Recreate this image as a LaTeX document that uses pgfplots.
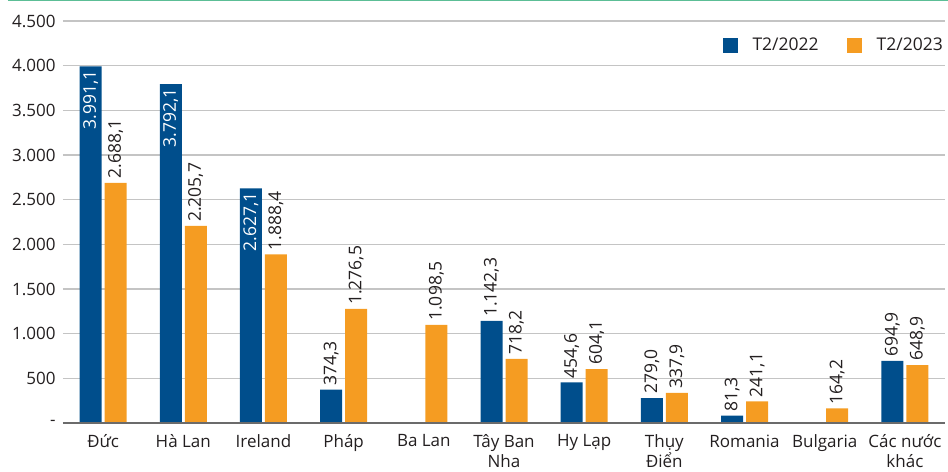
\documentclass[border=0pt]{standalone}
\usepackage{pgfplots}
\pgfplotsset{compat=1.18}
\usepackage{pgfplotstable}
\usepackage{fontspec}
\setmainfont{Open Sans}
\definecolor{cblue}{HTML}{004E8C}
\definecolor{corange}{HTML}{F59C22}
\definecolor{ctext}{HTML}{231F20}
\definecolor{cgreen}{HTML}{5CBE96}
\definecolor{cgrid}{HTML}{C4C4C4}
\definecolor{caxis}{HTML}{6B6B6B}

\pgfplotstableread{
x y lab
0 3991.1 3.991,1
1 3792.1 3.792,1
2 2627.1 2.627,1
}\blueIn
\pgfplotstableread{
x y lab
3 374.3 374,3
5 1142.3 1.142,3
6 454.6 454,6
7 279.0 279,0
8 81.3 81,3
10 694.9 694,9
}\blueOut
\pgfplotstableread{
x y lab
0 2688.1 2.688,1
1 2205.7 2.205,7
2 1888.4 1.888,4
3 1276.5 1.276,5
4 1098.5 1.098,5
5 718.2 718,2
6 604.1 604,1
7 337.9 337,9
8 241.1 241,1
9 164.2 164,2
10 648.9 648,9
}\orangeData

\begin{document}
\begin{tikzpicture}
\begin{axis}[
  at={(0,0)}, anchor=south west,
  scale only axis, width=882bp, height=402bp,
  xmin=-0.5, xmax=10.5, ymin=0, ymax=4500,
  enlargelimits=false, clip=false,
  ybar=3bp, bar width=22bp,
  font=\fontsize{17bp}{23bp}\selectfont,
  /pgf/number format/assume math mode=true,
  axis x line*=bottom, axis y line*=left,
  x axis line style={draw=none}, y axis line style={draw=none},
  major tick length=0pt,
  xtick={0,...,10},
  xticklabels={Đức, Hà Lan, Ireland, Pháp, Ba Lan, {Tây Ban\\Nha}, Hy Lạp, {Thụy\\Điển}, Romania, Bulgaria, {Các nước\\khác}},
  xticklabel style={align=center, text=ctext, inner sep=0.5bp, yshift=-11bp, font=\fontsize{17bp}{19.5bp}\selectfont},
  ytick={0,500,...,4500},
  yticklabels={-,500,1.000,1.500,2.000,2.500,3.000,3.500,4.000,4.500},
  yticklabel style={text=ctext, xshift=-4bp},
  ymajorgrids, grid style={cgrid, line width=1.2bp},
  legend columns=2,
  legend style={at={(1,0.940)}, anchor=east, draw=none, fill=none, inner sep=0pt, text=ctext,
    font=\fontsize{17.5bp}{22bp}\selectfont,
    /tikz/every even column/.append style={column sep=26bp}},
  legend image code/.code={\fill[#1] (-4bp,-7.5bp) rectangle (11bp,7.5bp); \path (24bp,0bp);},
  point meta=explicit symbolic,
  nodes near coords,
  nodes near coords style={font=\fontsize{17.5bp}{22bp}\selectfont},
]
\addplot[fill=cblue, draw=none, bar shift=-12.5bp,
  every node near coord/.append style={rotate=90, anchor=east, text=white, inner sep=4bp}]
  table[x=x, y=y, meta=lab] {\blueIn};
\addplot[fill=cblue, draw=none, bar shift=-12.5bp, forget plot,
  every node near coord/.append style={rotate=90, anchor=west, text=ctext, inner sep=4bp}]
  table[x=x, y=y, meta=lab] {\blueOut};
\addplot[fill=corange, draw=none, bar shift=12.5bp,
  every node near coord/.append style={rotate=90, anchor=west, text=ctext, inner sep=4bp}]
  table[x=x, y=y, meta=lab] {\orangeData};
\legend{T2/2022, T2/2023}
\draw[caxis, line width=2bp] (rel axis cs:0,0) -- (rel axis cs:1,0);
\end{axis}
\draw[cgreen, line width=1.5bp] (-55bp,422.5bp) -- (885bp,422.5bp);
\pgfresetboundingbox
\path[use as bounding box] (-63bp,-49bp) rectangle (885bp,423bp);
\end{tikzpicture}
\end{document}
